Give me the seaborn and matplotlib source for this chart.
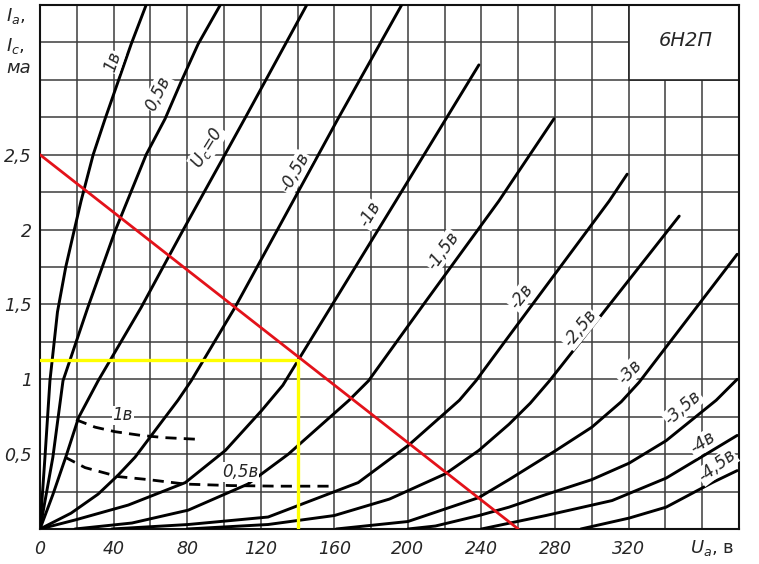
import matplotlib
matplotlib.use("Agg")
import matplotlib.pyplot as plt
import seaborn as sns
import pandas as pd
from matplotlib.ticker import MultipleLocator
from matplotlib.patches import Rectangle

# ---------------- data ----------------
# anode current curves Ia(Ua) for each grid voltage Uc
curve_names = ["1в", "0,5в", "Uс=0", "-0,5в", "-1в", "-1,5в", "-2в",
               "-2,5в", "-3в", "-3,5в", "-4в", "-4,5в"]

ua_p1 = [0, 2.7, 5.4, 9.5, 14, 18.5, 22.3, 28.9, 35.4, 42.5, 49.6, 57.7]
ia_p1 = [0, 0.48, 0.99, 1.45, 1.75, 1.99, 2.19, 2.5, 2.74, 2.99, 3.24, 3.5]

ua_p05 = [0, 7, 12.5, 26, 40.8, 57.7, 68, 76.8, 86, 98]
ia_p05 = [0, 0.48, 0.99, 1.48, 1.99, 2.5, 2.74, 2.99, 3.24, 3.5]

ua_0 = [0, 7, 14, 21, 31.6, 55, 77.5, 100.5, 112.6, 145]
ia_0 = [0, 0.23, 0.48, 0.745, 0.99, 1.48, 1.99, 2.5, 2.77, 3.5]

ua_m05 = [0, 16.9, 31.6, 42.5, 51.7, 67, 75, 82.2, 106, 128.7, 162, 196.6]
ia_m05 = [0, 0.106, 0.233, 0.36, 0.48, 0.73, 0.86, 0.99, 1.48, 1.99, 2.74, 3.5]

ua_m1 = [0, 19, 48, 79, 100.8, 120.4, 132, 140.5, 193.4, 238.6]
ia_m1 = [0, 0.06, 0.16, 0.31, 0.525, 0.79, 0.96, 1.13, 2.19, 3.10]

ua_m15 = [19, 50, 80.6, 113, 135, 168, 178.6, 209.7, 249.4, 279.4]
ia_m15 = [0, 0.04, 0.126, 0.30, 0.50, 0.86, 0.99, 1.52, 2.19, 2.74]

ua_m2 = [39, 80.6, 124, 173, 200.4, 228, 237, 252, 309.4, 319.2]
ia_m2 = [0, 0.03, 0.08, 0.31, 0.56, 0.86, 0.99, 1.24, 2.19, 2.37]

ua_m25 = [80, 124, 160, 190, 220.6, 238.6, 255, 266.5, 277, 311, 347.5]
ia_m25 = [0, 0.03, 0.09, 0.2, 0.37, 0.525, 0.70, 0.84, 0.99, 1.52, 2.09]

ua_m3 = [161, 200, 238.6, 255, 280.5, 300, 316, 325.7, 379]
ia_m3 = [0, 0.05, 0.21, 0.33, 0.525, 0.68, 0.85, 0.98, 1.835]

ua_m35 = [200, 215, 238.6, 255, 275, 300, 320.3, 340.4, 367.6, 379]
ia_m35 = [0, 0.02, 0.09, 0.146, 0.23, 0.33, 0.44, 0.59, 0.86, 1.0]

ua_m4 = [240, 275, 311, 340.4, 365.5, 379]
ia_m4 = [0, 0.09, 0.19, 0.34, 0.525, 0.625]

ua_m45 = [294, 320.3, 340.4, 365.5, 379]
ia_m45 = [0, 0.073, 0.146, 0.31, 0.39]

anode_ua = [ua_p1, ua_p05, ua_0, ua_m05, ua_m1, ua_m15, ua_m2,
            ua_m25, ua_m3, ua_m35, ua_m4, ua_m45]
anode_ia = [ia_p1, ia_p05, ia_0, ia_m05, ia_m1, ia_m15, ia_m2,
            ia_m25, ia_m3, ia_m35, ia_m4, ia_m45]

# grid current curves Ic(Ua) (dashed)
grid_names = ["1в", "0,5в"]
ua_g1 = [19.6, 30, 40.8, 55, 68, 84.4]
ic_g1 = [0.73, 0.68, 0.65, 0.625, 0.61, 0.60]
ua_g05 = [13.6, 24.5, 42.5, 58.8, 79, 104, 130, 160.7]
ic_g05 = [0.48, 0.41, 0.35, 0.33, 0.30, 0.29, 0.286, 0.286]
grid_ua = [ua_g1, ua_g05]
grid_ic = [ic_g1, ic_g05]

# load line (red) and operating point (yellow)
load_ua = [0, 260]
load_ia = [2.5, 0]
op_ua = [0, 140, 140]
op_ia = [1.13, 1.13, 0]

x_ticks = [0, 40, 80, 120, 160, 200, 240, 280, 320]
y_ticks = [0.5, 1, 1.5, 2, 2.5]
y_tick_labels = ["0,5", "1", "1,5", "2", "2,5"]

# curve label positions (Ua, I) and angles
label_pos = [(39.7, 3.12, 71), (64, 2.91, 64), (91, 2.55, 58), (138.7, 2.38, 60),
             (179.4, 2.10, 59), (219, 1.86, 54), (261.6, 1.55, 52), (293.6, 1.34, 51),
             (320.8, 1.05, 46), (349.6, 0.81, 41), (360, 0.575, 33), (368, 0.42, 37)]
grid_label_pos = [(45, 0.76), (108.8, 0.38)]

# ---------------- build frames ----------------
rows = []
for name, us, iis in zip(curve_names, anode_ua, anode_ia):
    for u, i in zip(us, iis):
        rows.append({"curve": name, "Ua": u, "I": i})
df_a = pd.DataFrame(rows)

rows = []
for name, us, iis in zip(grid_names, grid_ua, grid_ic):
    for u, i in zip(us, iis):
        rows.append({"curve": "g" + name, "Ua": u, "I": i})
df_g = pd.DataFrame(rows)

df_load = pd.DataFrame({"Ua": load_ua, "I": load_ia})
df_op = pd.DataFrame({"Ua": op_ua, "I": op_ia, "k": ["op"] * 3})

# ---------------- style ----------------
sns.set_style("white")
plt.rcParams["font.family"] = ["DejaVu Sans"]
plt.rcParams["mathtext.fontset"] = "dejavusans"

W, H = 759, 564
fig = plt.figure(figsize=(W / 100, H / 100), dpi=100)
ax = fig.add_axes([40 / W, 35 / H, 699 / W, 524 / H])

ax.set_xlim(0, 380)
ax.set_ylim(0, 3.5)

# grid
ax.set_xticks(x_ticks)
ax.set_yticks(y_ticks)
ax.xaxis.set_minor_locator(MultipleLocator(20))
ax.yaxis.set_minor_locator(MultipleLocator(0.25))
ax.set_axisbelow(True)
ax.grid(True, which="both", color="#3c3c3c", lw=1.1)

# title box without grid
ax.add_patch(Rectangle((320, 3.0), 60, 0.5, facecolor="white",
                       edgecolor="#222222", lw=1.2, zorder=1.5))

# curves
sns.lineplot(data=df_a, x="Ua", y="I", units="curve", estimator=None, sort=False,
             color="black", lw=2.1, ax=ax, legend=False, zorder=3)
sns.lineplot(data=df_g, x="Ua", y="I", units="curve", estimator=None, sort=False,
             color="black", lw=2.0, ax=ax, legend=False, zorder=3,
             linestyle=(0, (4, 2.6)))
sns.lineplot(data=df_load, x="Ua", y="I", estimator=None, sort=False,
             color="#e3121a", lw=2.0, ax=ax, legend=False, zorder=5)
sns.lineplot(data=df_op, x="Ua", y="I", units="k", estimator=None, sort=False,
             color="#ffff00", lw=2.4, ax=ax, legend=False, zorder=4)

ax.set_xlim(0, 380)
ax.set_ylim(0, 3.5)
ax.set_xlabel("")
ax.set_ylabel("")

for s in ax.spines.values():
    s.set_visible(True)
    s.set_color("#111111")
    s.set_linewidth(1.5)

ax.tick_params(which="both", length=0)
ax.set_xticklabels([str(v) for v in x_ticks], fontsize=12.5, fontstyle="italic")
ax.set_yticklabels(y_tick_labels, fontsize=12.5, fontstyle="italic")
ax.tick_params(axis="x", pad=8)
ax.tick_params(axis="y", pad=6)

# curve labels
for name, (u, i, rot) in zip(curve_names, label_pos):
    txt = "$U_{с}$=0" if name == "Uс=0" else name
    ax.text(u, i, txt, rotation=rot, rotation_mode="anchor", ha="center",
            va="center", fontsize=12, fontstyle="italic", zorder=6,
            bbox=dict(facecolor="white", edgecolor="none", pad=0.5))
for name, (u, i) in zip(grid_names, grid_label_pos):
    ax.text(u, i, name, ha="center", va="center", fontsize=12,
            fontstyle="italic", zorder=6,
            bbox=dict(facecolor="white", edgecolor="none", pad=0.5))

ax.text(351, 3.26, "6Н2П", ha="center", va="center", fontsize=14,
        fontstyle="italic", zorder=6)

# axis captions
fig.text(6 / W, 1 - 16 / H, "$I_{а}$,", fontsize=13, ha="left", va="center")
fig.text(6 / W, 1 - 46 / H, "$I_{с}$,", fontsize=13, ha="left", va="center")
fig.text(6 / W, 1 - 68 / H, "ма", fontsize=13, ha="left", va="center",
         fontstyle="italic")
fig.text(712 / W, 1 - 548 / H, "$U_{а}$, в", fontsize=13, ha="center",
         va="center")

fig.savefig("out.png", dpi=100, facecolor="white")
